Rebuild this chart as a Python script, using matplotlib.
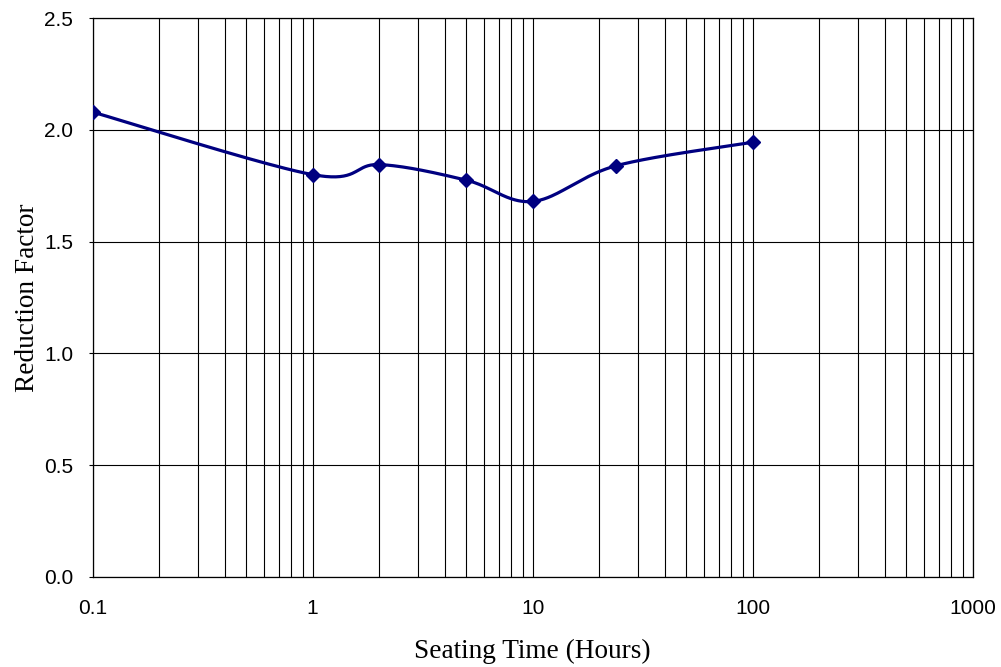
import matplotlib
matplotlib.use("Agg")
import matplotlib.pyplot as plt
import numpy as np
from matplotlib.ticker import FixedLocator, NullFormatter, FixedFormatter

# data
hours = [0.1, 1, 2, 5, 10, 24, 100]
factor = [2.08, 1.80, 1.845, 1.775, 1.68, 1.84, 1.945]

x_ticks = [0.1, 1, 10, 100, 1000]
x_tick_labels = ["0.1", "1", "10", "100", "1000"]
y_ticks = [0.0, 0.5, 1.0, 1.5, 2.0, 2.5]


def smooth_curve(xs, ys, sx, sy, n=40):
    """Excel-like smoothed line: cubic Bezier through points, computed in screen-ish units."""
    u = np.log10(np.asarray(xs, float)) * sx
    v = np.asarray(ys, float) * sy
    pts = np.column_stack([u, v])
    out = []
    for i in range(len(pts) - 1):
        p0 = pts[i - 1] if i > 0 else pts[i]
        p1 = pts[i]
        p2 = pts[i + 1]
        p3 = pts[i + 2] if i + 2 < len(pts) else pts[i + 1]
        c1 = p1 + (p2 - p0) / 6.0
        c2 = p2 - (p3 - p1) / 6.0
        t = np.linspace(0, 1, n)[:, None]
        seg = ((1 - t) ** 3) * p1 + 3 * ((1 - t) ** 2) * t * c1 + 3 * (1 - t) * t ** 2 * c2 + t ** 3 * p2
        out.append(seg if i == 0 else seg[1:])
    seg = np.vstack(out)
    return 10 ** (seg[:, 0] / sx), seg[:, 1] / sy


fig = plt.figure(figsize=(10.01, 6.67), dpi=100)
ax = fig.add_axes([0.0926, 0.1354, 0.8791, 0.8372])

ax.set_xscale("log")
ax.set_xlim(0.1, 1000)
ax.set_ylim(0, 2.5)

# one decade ~220 px, one y unit ~223 px
cx, cy = smooth_curve(hours, factor, 220.0, 223.2)
ax.plot(cx, cy, color="#000080", lw=2.3, solid_capstyle="round", zorder=3)
ax.plot(hours, factor, ls="none", marker="D", ms=7.5, color="#000080", zorder=4)

minor = [m * 10.0 ** e for e in range(-1, 3) for m in range(2, 10)]
ax.xaxis.set_major_locator(FixedLocator(x_ticks))
ax.xaxis.set_major_formatter(FixedFormatter(x_tick_labels))
ax.xaxis.set_minor_locator(FixedLocator(minor))
ax.xaxis.set_minor_formatter(NullFormatter())
ax.set_yticks(y_ticks)
ax.set_yticklabels([f"{v:.1f}" for v in y_ticks])

ax.grid(which="major", axis="both", color="black", lw=0.8)
ax.grid(which="minor", axis="x", color="black", lw=0.8)
ax.set_axisbelow(True)

for s in ax.spines.values():
    s.set_color("black")
    s.set_linewidth(0.9)

ax.tick_params(axis="x", which="both", length=0, pad=16, labelsize=15)
ax.tick_params(axis="y", which="both", length=3, direction="out", pad=11, labelsize=15)
for lab in ax.get_xticklabels() + ax.get_yticklabels():
    lab.set_fontfamily("Liberation Sans")

ax.set_xlabel("Seating Time (Hours)", fontfamily="Liberation Serif", fontsize=19.6, labelpad=15)
ax.set_ylabel("Reduction Factor", fontfamily="Liberation Serif", fontsize=19.6, labelpad=3)

fig.savefig("out.png", dpi=100)
